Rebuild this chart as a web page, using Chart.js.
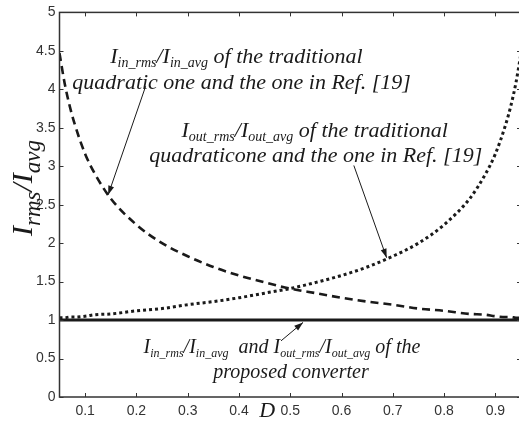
<!DOCTYPE html>
<html>
<head>
<meta charset="utf-8">
<script src="https://cdn.jsdelivr.net/npm/chart.js@4.4.1/dist/chart.umd.min.js"></script>
<style>
  html, body { margin: 0; padding: 0; background: #fff; overflow: hidden; }
  #wrap { width: 523px; height: 427px; }
</style>
</head>
<body>
<div id="wrap"><canvas id="rmsChart" width="523" height="427"></canvas></div>
<script>
// duty cycle D and the rms/avg ratios
const dutyValues = [0.05, 0.06, 0.07, 0.08, 0.10, 0.12, 0.15, 0.20, 0.25, 0.30, 0.35, 0.40, 0.45,
  0.50, 0.55, 0.60, 0.65, 0.70, 0.75, 0.80, 0.85, 0.88, 0.90, 0.92, 0.93, 0.94, 0.95];
const inRatio = [4.47, 4.08, 3.78, 3.54, 3.16, 2.89, 2.58, 2.24, 2.00, 1.83, 1.69, 1.58, 1.49,
  1.41, 1.35, 1.29, 1.24, 1.20, 1.15, 1.12, 1.08, 1.07, 1.05, 1.04, 1.04, 1.03, 1.03];
const outRatio = [1.03, 1.03, 1.04, 1.04, 1.05, 1.07, 1.08, 1.12, 1.15, 1.20, 1.24, 1.29, 1.35,
  1.41, 1.49, 1.58, 1.69, 1.83, 2.00, 2.24, 2.58, 2.89, 3.16, 3.54, 3.78, 4.08, 4.47];
const proposedDuty = [0.05, 0.95];
const proposedRatio = [1, 1];

const xTicks = [0.1, 0.2, 0.3, 0.4, 0.5, 0.6, 0.7, 0.8, 0.9];
const yTicks = [0, 0.5, 1, 1.5, 2, 2.5, 3, 3.5, 4, 4.5, 5];

const serif = '"Liberation Serif", "Times New Roman", serif';
const sans = '"Liberation Sans", Arial, sans-serif';
const ink = '#1a1a1a';

// annotation text: [text, isSubscript]
const notes = [
  { x: 0.149, y: 4.42, size: 22, parts: [['I', 0], ['in_rms', 1], ['/I', 0], ['in_avg', 1], [' of the traditional', 0]] },
  { x: 0.075, y: 4.08, size: 22, parts: [['quadratic one and the one in Ref. [19]', 0]] },
  { x: 0.288, y: 3.46, size: 22, parts: [['I', 0], ['out_rms', 1], ['/I', 0], ['out_avg', 1], [' of the traditional', 0]] },
  { x: 0.225, y: 3.13, size: 22, parts: [['quadraticone and the one in Ref. [19]', 0]] },
  { x: 0.214, y: 0.64, size: 20, parts: [['I', 0], ['in_rms', 1], ['/I', 0], ['in_avg', 1], ['  and ', 0], ['I', 0], ['out_rms', 1], ['/I', 0], ['out_avg', 1], [' of the', 0]] },
  { x: 0.35, y: 0.32, size: 20, parts: [['proposed converter', 0]] }
];
const arrows = [
  { from: [0.218, 4.04], to: [0.145, 2.63] },
  { from: [0.624, 3.01], to: [0.688, 1.81] },
  { from: [0.482, 0.73], to: [0.525, 0.97] }
];

function drawRich(ctx, x, y, parts, size, subScale) {
  let cx = x;
  parts.forEach(([txt, sub]) => {
    ctx.font = 'italic ' + (sub ? Math.round(size * subScale) : size) + 'px ' + serif;
    ctx.fillText(txt, cx, sub ? y + size * 0.28 : y);
    cx += ctx.measureText(txt).width;
  });
}

const framePlugin = {
  id: 'frame',
  afterDatasetsDraw(chart) {
    const { ctx, chartArea: a, scales } = chart;
    const xs = scales.x, ys = scales.y;
    ctx.save();
    // box
    ctx.strokeStyle = '#333';
    ctx.lineWidth = 1.5;
    ctx.strokeRect(a.left, a.top, a.right - a.left, a.bottom - a.top);
    // inward ticks
    ctx.lineWidth = 1;
    ctx.beginPath();
    xTicks.forEach(v => {
      const px = Math.round(xs.getPixelForValue(v)) + 0.5;
      ctx.moveTo(px, a.bottom); ctx.lineTo(px, a.bottom - 4);
      ctx.moveTo(px, a.top); ctx.lineTo(px, a.top + 4);
    });
    yTicks.forEach(v => {
      const py = Math.round(ys.getPixelForValue(v)) + 0.5;
      ctx.moveTo(a.left, py); ctx.lineTo(a.left + 4, py);
      ctx.moveTo(a.right, py); ctx.lineTo(a.right - 4, py);
    });
    ctx.stroke();

    // annotations
    ctx.fillStyle = ink;
    ctx.textBaseline = 'middle';
    ctx.textAlign = 'left';
    notes.forEach(n => drawRich(ctx, xs.getPixelForValue(n.x), ys.getPixelForValue(n.y), n.parts, n.size, 0.62));

    // arrows
    ctx.strokeStyle = ink;
    ctx.lineWidth = 1;
    arrows.forEach(ar => {
      const x1 = xs.getPixelForValue(ar.from[0]), y1 = ys.getPixelForValue(ar.from[1]);
      const x2 = xs.getPixelForValue(ar.to[0]), y2 = ys.getPixelForValue(ar.to[1]);
      const ang = Math.atan2(y2 - y1, x2 - x1);
      ctx.beginPath();
      ctx.moveTo(x1, y1); ctx.lineTo(x2, y2);
      ctx.stroke();
      ctx.beginPath();
      ctx.moveTo(x2, y2);
      ctx.lineTo(x2 - 9 * Math.cos(ang) + 3 * Math.sin(ang), y2 - 9 * Math.sin(ang) - 3 * Math.cos(ang));
      ctx.lineTo(x2 - 9 * Math.cos(ang) - 3 * Math.sin(ang), y2 - 9 * Math.sin(ang) + 3 * Math.cos(ang));
      ctx.closePath();
      ctx.fill();
    });

    // axis titles
    ctx.textBaseline = 'alphabetic';
    ctx.font = 'italic 22px ' + serif;
    ctx.fillText('D', xs.getPixelForValue(0.5) - 31, a.bottom + 20);

    ctx.save();
    ctx.translate(32, 236);
    ctx.rotate(-Math.PI / 2);
    drawRich(ctx, 0, 0, [['I', 0], ['rms', 1], ['/I', 0], ['avg', 1]], 30, 0.75);
    ctx.restore();
    ctx.restore();
  }
};

const toPoints = (xs, ys) => xs.map((x, i) => ({ x: x, y: ys[i] }));

new Chart(document.getElementById('rmsChart'), {
  type: 'line',
  data: {
    datasets: [
      {
        label: 'in',
        data: toPoints(dutyValues, inRatio),
        borderColor: ink,
        borderWidth: 2.6,
        borderDash: [8, 5],
        pointRadius: 0,
        cubicInterpolationMode: 'monotone'
      },
      {
        label: 'out',
        data: toPoints(dutyValues, outRatio),
        borderColor: ink,
        borderWidth: 3,
        borderDash: [3, 3],
        pointRadius: 0,
        cubicInterpolationMode: 'monotone'
      },
      {
        label: 'proposed',
        data: toPoints(proposedDuty, proposedRatio),
        borderColor: ink,
        borderWidth: 3,
        pointRadius: 0
      }
    ]
  },
  options: {
    responsive: false,
    animation: false,
    layout: { padding: { left: 0, right: 2, top: 7, bottom: 0 } },
    plugins: { legend: { display: false }, tooltip: { enabled: false } },
    scales: {
      x: {
        type: 'linear',
        min: 0.05,
        max: 0.95,
        afterBuildTicks: s => { s.ticks = xTicks.map(v => ({ value: v })); },
        afterFit: s => { s.height = 30; },
        grid: { display: true, drawOnChartArea: false, drawTicks: false },
        border: { display: false },
        ticks: { color: '#333', font: { family: sans, size: 14 }, padding: 6, maxRotation: 0,
          callback: v => String(v) }
      },
      y: {
        min: 0,
        max: 5,
        afterBuildTicks: s => { s.ticks = yTicks.map(v => ({ value: v })); },
        afterFit: s => { s.width = 59.5; },
        grid: { display: true, drawOnChartArea: false, drawTicks: false },
        border: { display: false },
        ticks: { color: '#333', font: { family: sans, size: 14 }, padding: 4,
          callback: v => String(v) }
      }
    }
  },
  plugins: [framePlugin]
});
</script>
</body>
</html>
